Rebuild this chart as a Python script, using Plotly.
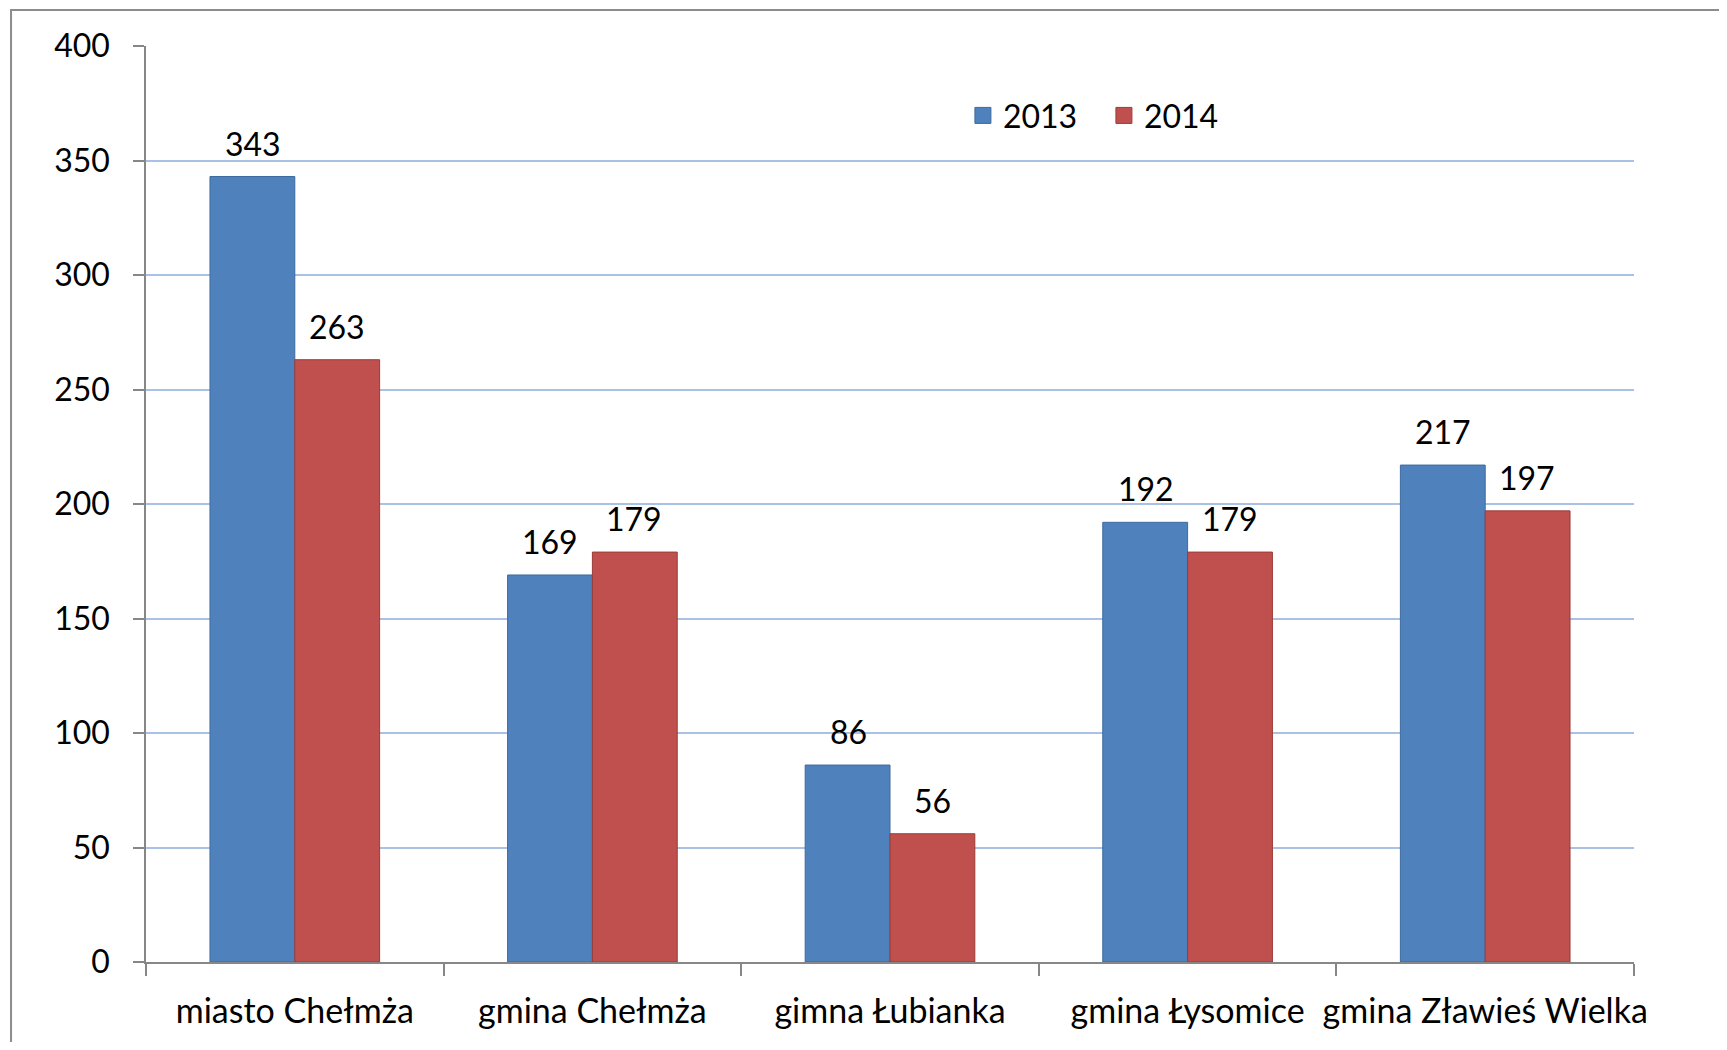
import plotly.graph_objects as go

# data
categories = ['miasto Chełmża', 'gmina Chełmża', 'gimna Łubianka',
              'gmina Łysomice', 'gmina Zławieś Wielka']
values_2013 = [343, 169, 86, 192, 217]
values_2014 = [263, 179, 56, 179, 197]
series_names = ['2013', '2014']
y_ticks = [0, 50, 100, 150, 200, 250, 300, 350, 400]

BLUE = '#4F81BD'
BLUE_EDGE = '#3D6A9E'
RED = '#C0504D'
RED_EDGE = '#9B3B38'
FONT = 'Lato'

fig = go.Figure()

series = [
    (series_names[0], values_2013, BLUE, BLUE_EDGE, -42),
    (series_names[1], values_2014, RED, RED_EDGE, 42),
]

for name, vals, color, edge, shift in series:
    fig.add_trace(go.Bar(
        name=name, x=categories, y=vals,
        marker=dict(color=color, line=dict(color=edge, width=1)),
        showlegend=False,
    ))
    # bigger legend squares than the bar default
    fig.add_trace(go.Scatter(
        name=name, x=[None], y=[None], mode='markers',
        marker=dict(symbol='square', size=16, color=color,
                    line=dict(color=edge, width=1)),
    ))
    for cat, v in zip(categories, vals):
        fig.add_annotation(
            x=cat, y=v, text=str(v), showarrow=False,
            xref='x', yref='y', yanchor='bottom',
            xshift=shift, yshift=12,
            font=dict(family=FONT, size=32, color='#000000'),
        )

# page body has an 8px margin, so the figure is a bit smaller than the window
fig.update_layout(
    width=1711, height=1034,
    margin=dict(l=138, r=85, t=38, b=78),
    paper_bgcolor='white', plot_bgcolor='white',
    barmode='group', bargap=0.43, bargroupgap=0,
    font=dict(family=FONT, size=32, color='#000000'),
    legend=dict(
        orientation='h', x=0.549, y=0.924,
        xanchor='left', yanchor='middle',
        bgcolor='rgba(0,0,0,0)',
        font=dict(family=FONT, size=32),
        itemwidth=30, entrywidth=96,
    ),
    shapes=[dict(
        type='rect', xref='paper', yref='paper',
        x0=-0.0907, x1=1.2, y0=-0.3, y1=1.0392,
        line=dict(color='#8C8C8C', width=2),
        fillcolor='rgba(0,0,0,0)', layer='below',
    )],
)

fig.update_xaxes(
    type='category', tickson='boundaries', tickangle=0,
    ticks='outside', ticklen=12, tickcolor='#878787', tickwidth=1.5,
    showline=True, linecolor='#878787', linewidth=1.5,
    showgrid=False, ticklabelstandoff=18,
    tickfont=dict(family=FONT, size=34, color='#000000'),
)
fig.update_yaxes(
    range=[0, 400], tickvals=y_ticks,
    ticks='outside', ticklen=11, tickcolor='#878787', tickwidth=1.5,
    showline=True, linecolor='#878787', linewidth=1.5,
    showgrid=True, gridcolor='#A9C1E4', gridwidth=2,
    zeroline=False, ticklabelstandoff=17,
    tickfont=dict(family=FONT, size=32, color='#000000'),
)

fig.write_html('out.html')
